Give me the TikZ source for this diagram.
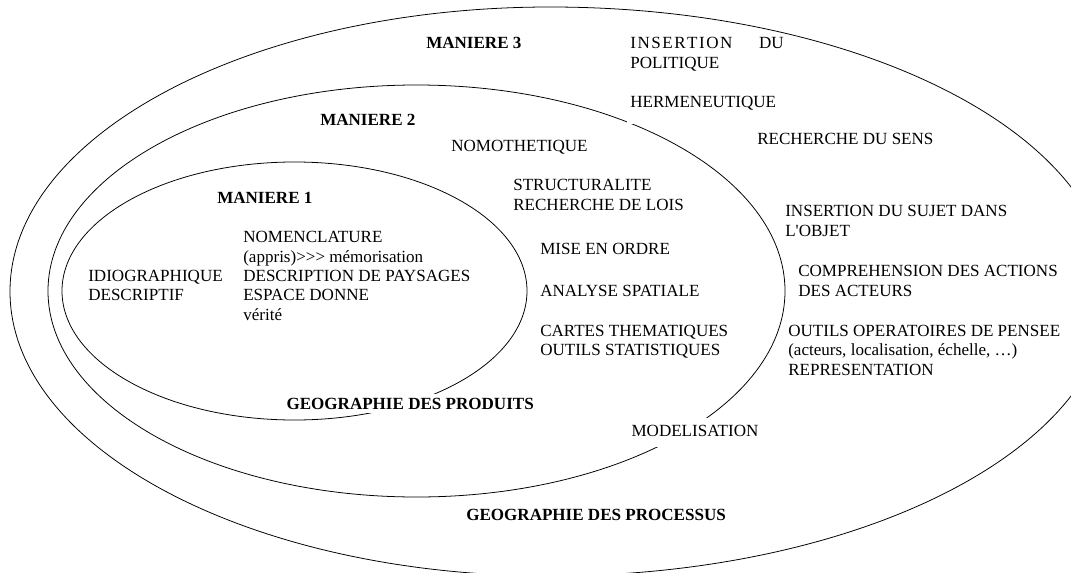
\documentclass[tikz,border=0pt]{standalone}
\usepackage{fontspec}
\setmainfont{Liberation Serif}
\begin{document}
\begin{tikzpicture}[x=0.704pt, y=-0.704pt,
  txt/.style={anchor=base west, inner sep=0pt, font=\fontsize{12}{13.8}\selectfont},
  ttl/.style={txt, font=\fontsize{12}{13.8}\selectfont\bfseries},
  oval/.style={line width=0.55pt, black}]
\useasboundingbox (0,0) rectangle (1071,572);
\begin{scope}
\clip (0,0) rectangle (1071,572);
% outer shape (Maniere 3): left half and slightly wider right half
\draw[oval] (550,7) arc[start angle=270, end angle=90, x radius=540, y radius=284.5]
                    arc[start angle=90, end angle=-90, x radius=560, y radius=284.5] -- cycle;
% middle (Maniere 2)
\draw[oval] (416.5,291) ellipse [x radius=368.5, y radius=206];
% inner (Maniere 1)
\draw[oval] (294.5,291) ellipse [x radius=232.5, y radius=129];
\end{scope}

% Maniere 1
\node[ttl] (m1) at (217,203.5) {MANIERE 1};
\node[txt] (idio) at (88,281.5) {IDIOGRAPHIQUE};
\node[txt] (desc) at (88,300.5) {DESCRIPTIF};
\node[txt] (nomen) at (243,242.5) {NOMENCLATURE};
\node[txt] (appris) at (243,262) {(appris)>\kern0pt>\kern0pt> mémorisation};
\node[txt] (paysa) at (243,281.5) {DESCRIPTION DE PAYSAGES};
\node[txt] (espace) at (243,300.5) {ESPACE DONNE};
\node[txt] (verite) at (243,320) {vérité};
\node[ttl, fill=white, text height=11.3pt, text depth=2.4pt, inner xsep=3pt] (prod) at (282,409.6) {GEOGRAPHIE DES PRODUITS};

% Maniere 2
\node[ttl] (m2) at (320,125.5) {MANIERE 2};
\node[txt] (nomo) at (451,151.5) {NOMOTHETIQUE};
\node[txt] (struct) at (513,190.5) {STRUCTURALITE};
\node[txt] (lois) at (513,210) {RECHERCHE DE LOIS};
\node[txt] (ordre) at (540,254.5) {MISE EN ORDRE};
\node[txt] (analyse) at (540,296) {ANALYSE SPATIALE};
\node[txt] (cartes) at (540,336) {CARTES THEMATIQUES};
\node[txt] (stat) at (540,355.5) {OUTILS STATISTIQUES};
\node[txt, fill=white, text height=13.1pt, text depth=7.3pt, inner xsep=3pt] (model) at (627,436.6) {MODELISATION};

% Maniere 3
\node[ttl] (m3) at (426,48.5) {MANIERE 3};
\node[txt] (insert) at (630,48.5) {\makebox[108pt][s]{\makebox[72pt][s]{I\hfill N\hfill S\hfill E\hfill R\hfill T\hfill I\hfill O\hfill N}\hfill DU}};
\node[txt] (polit) at (630,68.5) {POLITIQUE};
\node[txt, fill=white, text height=8pt, text depth=11.4pt, inner xsep=2pt] (herme) at (627.2,107.5) {HERMENEUTIQUE};
\node[txt] (sens) at (757,144) {RECHERCHE DU SENS};
\node[txt] (sujet) at (785,216.5) {INSERTION DU SUJET DANS};
\node[txt] (objet) at (785,236) {L\textquotesingle OBJET};
\node[txt] (compr) at (798,276.5) {COMPREHENSION DES ACTIONS};
\node[txt] (acteurs) at (798,296) {DES ACTEURS};
\node[txt] (outils) at (788,336) {OUTILS OPERATOIRES DE PENSEE};
\node[txt] (paren) at (788,355.5) {(acteurs, localisation, échelle, …)};
\node[txt] (repr) at (788,375) {REPRESENTATION};
\node[ttl] (proc) at (466,520.5) {GEOGRAPHIE DES PROCESSUS};
\end{tikzpicture}
\end{document}
